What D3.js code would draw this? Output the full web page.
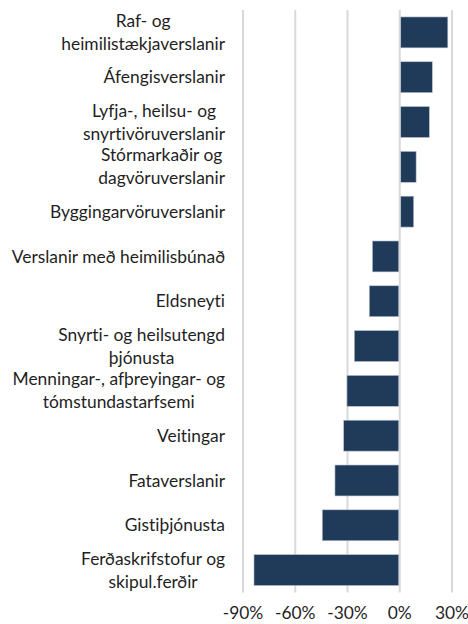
<!DOCTYPE html>
<html>
<head>
<meta charset="utf-8">
<script src="https://cdn.jsdelivr.net/npm/d3@7"></script>
<style>
  html, body { margin: 0; padding: 0; background: #fff; }
  svg { display: block; }
  text { font-family: Lato, "Open Sans", sans-serif; fill: #1f1f1f; font-variant-ligatures: none; font-feature-settings: "liga" 0, "clig" 0; }
</style>
</head>
<body>
<svg id="chart" width="468" height="624"></svg>
<script>
const categories = [
  ["Raf- og", "heimilistækjaverslanir"],
  ["Áfengisverslanir"],
  ["Lyfja-, heilsu- og", "snyrtivöruverslanir"],
  ["Stórmarkaðir og", "dagvöruverslanir"],
  ["Byggingarvöruverslanir"],
  ["Verslanir með heimilisbúnað"],
  ["Eldsneyti"],
  ["Snyrti- og heilsutengd", "þjónusta"],
  ["Menningar-, afþreyingar- og", "tómstundastarfsemi"],
  ["Veitingar"],
  ["Fataverslanir"],
  ["Gistiþjónusta"],
  ["Ferðaskrifstofur og", "skipul.ferðir"]
];
const values = [27.6, 18.7, 17.0, 9.4, 8.0, -15.7, -17.5, -26.1, -30.3, -32.2, -37.2, -44.5, -83.7];
const ticks = [-90, -60, -30, 0, 30];

const svg = d3.select("#chart");
const plotL = 243, plotR = 452, plotT = 10, plotB = 592.5;

const x = d3.scaleLinear().domain([-90, 30]).range([plotL, plotR]);
const y = d3.scaleBand().domain(d3.range(categories.length))
  .range([plotT, plotB]).paddingInner(0.31).paddingOuter(0.155);

// gridlines
svg.append("g").selectAll("line").data(ticks).join("line")
  .attr("x1", d => x(d)).attr("x2", d => x(d))
  .attr("y1", plotT).attr("y2", plotB)
  .attr("stroke", "#d9d9d9").attr("stroke-width", 2);

// bars
svg.append("g").selectAll("rect").data(values).join("rect")
  .attr("x", d => d >= 0 ? x(0) + 1 : x(d))
  .attr("width", d => Math.abs(x(d) - x(0)) - 1)
  .attr("y", (d, i) => y(i))
  .attr("height", y.bandwidth())
  .attr("fill", "#203a5a")
  .attr("stroke", "#b8c2cf").attr("stroke-width", 0.6);

// category labels
const fs = 17.4, lh = 23, labelRight = 225;
const lab = svg.append("g");
categories.forEach((lines, i) => {
  const cy = y(i) + y.bandwidth() / 2;
  const g = lab.append("g");
  const texts = lines.map((t, k) => g.append("text")
    .attr("font-size", fs)
    .attr("dy", "0.35em")
    .attr("y", cy + (k - (lines.length - 1) / 2) * lh)
    .attr("text-anchor", "middle")
    .text(t));
  const w = d3.max(texts, t => t.node().getComputedTextLength());
  texts.forEach(t => t.attr("x", labelRight - w / 2));
});

// x-axis tick labels
svg.append("g").selectAll("text").data(ticks).join("text")
  .attr("x", d => x(d)).attr("y", 613)
  .attr("dy", "0.35em")
  .attr("text-anchor", "middle")
  .attr("font-size", fs)
  .text(d => d + "%");
</script>
</body>
</html>
